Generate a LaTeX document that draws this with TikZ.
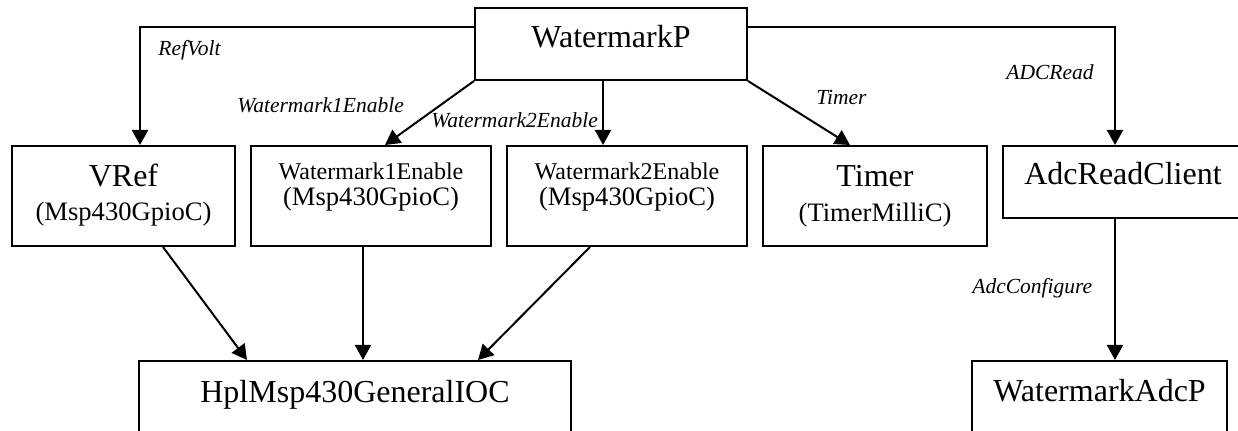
\documentclass[tikz,border=0pt]{standalone}
\usepackage{fontspec}
\setmainfont{Liberation Serif}
\usetikzlibrary{arrows.meta}

\begin{document}
\begin{tikzpicture}[x=0.5pt,y=-0.5pt,
  box/.style={draw,line width=1pt,rectangle,inner sep=0pt,minimum height=36pt},
  tall/.style={box,minimum height=50pt},
  conn/.style={line width=1pt,-{Triangle[length=7.5pt,width=8pt]}},
  txt/.style={inner sep=0pt,anchor=base},
  big/.style={txt,font=\fontsize{16}{19}\selectfont},
  sub/.style={txt,font=\fontsize{13.3}{16}\selectfont},
  mid/.style={txt,font=\fontsize{12}{14}\selectfont},
  lab/.style={inner sep=0pt,anchor=base west,font=\fontsize{10.75}{13}\selectfont\itshape}]

% canvas
\fill[white] (0,0) rectangle (1238,431);
\useasboundingbox (0,0) rectangle (1238,431);
\clip (0,0) rectangle (1238,431);

% component boxes
\node[box,minimum width=136pt] (wp) at (611,44) {};
\node[tall,minimum width=111.5pt] (vref) at (123.5,196) {};
\node[tall,minimum width=120pt] (w1e) at (371,196) {};
\node[tall,minimum width=120pt] (w2e) at (627,196) {};
\node[tall,minimum width=112pt] (timer) at (875,196) {};
\node[box,minimum width=123.5pt] (adc) at (1126.5,182) {};
\node[box,minimum width=216pt] (hpl) at (355,397) {};
\node[box,minimum width=127.5pt] (wadc) at (1099.5,397) {};

% box texts
\node[big] (wp-t) at (611,48) {WatermarkP};
\node[big] (vref-t1) at (123.5,187) {VRef};
\node[sub] (vref-t2) at (123.5,221) {(Msp430GpioC)};
\node[mid] (w1e-t1) at (371,180) {Watermark1Enable};
\node[sub] (w1e-t2) at (371,206) {(Msp430GpioC)};
\node[mid] (w2e-t1) at (627,180) {Watermark2Enable};
\node[sub] (w2e-t2) at (627,206) {(Msp430GpioC)};
\node[big] (timer-t1) at (875,187) {Timer};
\node[sub] (timer-t2) at (875,222) {(TimerMilliC)};
\node[big] (adc-t) at (1123,185) {AdcReadClient};
\node[big] (hpl-t) at (355,403) {HplMsp430GeneralIOC};
\node[big] (wadc-t) at (1099.5,402) {WatermarkAdcP};

% wiring
\draw[conn] ([yshift=8.5pt]wp.west) -| ([xshift=8.25pt]vref.north);
\draw[conn] ([yshift=8.5pt]wp.east) -| ([xshift=-5.75pt]adc.north);
\draw[conn] (wp.south west) -- ([xshift=7pt]w1e.north);
\draw[conn] ([xshift=-4pt]wp.south) -- ([xshift=-4pt]wp.south |- w2e.north);
\draw[conn] (wp.south east) -- ([xshift=-12.5pt]timer.north);
\draw[conn] ([xshift=19.75pt]vref.south) -- ([xshift=-54pt]hpl.north);
\draw[conn] ([xshift=-4pt]w1e.south) -- ([xshift=-4pt]w1e.south |- hpl.north);
\draw[conn] ([xshift=-18.5pt]w2e.south) -- ([xshift=61.5pt]hpl.north);
\draw[conn] ([xshift=-5.75pt]adc.south) -- ([xshift=-5.75pt]adc.south |- wadc.north);

% interface labels
\node[lab] (l-refvolt) at (158,56) {RefVolt};
\node[lab] (l-w1e) at (237,113) {Watermark1Enable};
\node[lab] (l-w2e) at (431,128) {Watermark2Enable};
\node[lab] (l-timer) at (816,105) {Timer};
\node[lab] (l-adcread) at (1006,80) {ADCRead};
\node[lab] (l-adccfg) at (972,294) {AdcConfigure};
\end{tikzpicture}
\end{document}
